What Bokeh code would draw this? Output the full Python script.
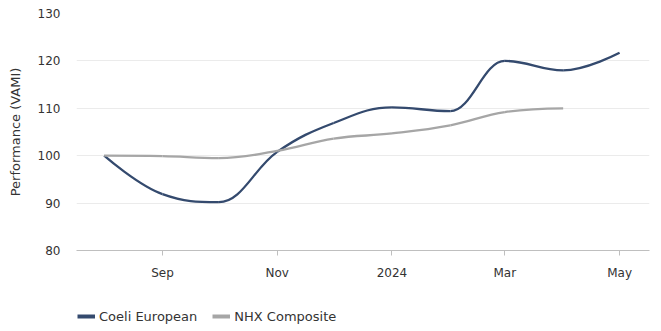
import pandas as pd
from bokeh.plotting import figure
from bokeh.layouts import column
from bokeh.models import (Range1d, FixedTicker, Legend, LegendItem, ColumnDataSource)
from bokeh.embed import file_html
from bokeh.resources import INLINE

# ---- data ----
coeli_dates = ["2023-08-01", "2023-09-01", "2023-10-01", "2023-11-01", "2023-12-01",
               "2024-01-01", "2024-02-01", "2024-03-01", "2024-04-01", "2024-05-01"]
coeli_values = [100, 91.9, 90.2, 100.8, 106.9, 110.2, 109.4, 120.0, 118.0, 121.7]

nhx_dates = ["2023-08-01", "2023-09-01", "2023-10-01", "2023-11-01", "2023-12-01",
             "2024-01-01", "2024-02-01", "2024-03-01", "2024-04-01"]
nhx_values = [100, 99.9, 99.5, 101.0, 103.6, 104.7, 106.4, 109.2, 110.0]

tick_dates = ["2023-09-01", "2023-11-01", "2024-01-01", "2024-03-01", "2024-05-01"]
tick_labels = ["Sep", "Nov", "2024", "Mar", "May"]

series_names = ["Coeli European", "NHX Composite"]
colors = ["#344a6e", "#a6a6a6"]

FONT = "DejaVu Sans"


def ms(d):
    return pd.Timestamp(d).value / 1e6


def spline_segments(xs, ys, smoothing=1.5):
    """Highcharts-style spline: cubic bezier control points from the data."""
    n = len(xs)
    left = [None] * n
    right = [None] * n
    denom = smoothing + 1
    for i in range(n):
        px, py = xs[i], ys[i]
        if 0 < i < n - 1:
            lx, ly = xs[i - 1], ys[i - 1]
            nx, ny = xs[i + 1], ys[i + 1]
            lcx = (smoothing * px + lx) / denom
            lcy = (smoothing * py + ly) / denom
            rcx = (smoothing * px + nx) / denom
            rcy = (smoothing * py + ny) / denom
            if rcx != lcx:
                corr = (rcy - lcy) * (rcx - px) / (rcx - lcx) + py - rcy
                lcy += corr
                rcy += corr
                if lcy > ly and lcy > py:
                    lcy = max(ly, py)
                    rcy = 2 * py - lcy
                elif lcy < ly and lcy < py:
                    lcy = min(ly, py)
                    rcy = 2 * py - lcy
                if rcy > ny and rcy > py:
                    rcy = max(ny, py)
                    lcy = 2 * py - rcy
                elif rcy < ny and rcy < py:
                    rcy = min(ny, py)
                    lcy = 2 * py - rcy
            left[i] = (lcx, lcy)
            right[i] = (rcx, rcy)
        else:
            left[i] = (px, py)
            right[i] = (px, py)
    seg = dict(x0=[], y0=[], x1=[], y1=[], cx0=[], cy0=[], cx1=[], cy1=[])
    for i in range(1, n):
        seg["x0"].append(xs[i - 1]); seg["y0"].append(ys[i - 1])
        seg["x1"].append(xs[i]); seg["y1"].append(ys[i])
        seg["cx0"].append(right[i - 1][0]); seg["cy0"].append(right[i - 1][1])
        seg["cx1"].append(left[i][0]); seg["cy1"].append(left[i][1])
    return seg


x_start = ms("2023-09-01") - 45.7 * 86400000
x_end = ms("2024-05-01") + 15.9 * 86400000

MAIN_H = 296
p = figure(width=661, height=MAIN_H, output_backend="svg", toolbar_location=None,
           x_axis_type="datetime",
           x_range=Range1d(x_start, x_end), y_range=Range1d(80, 130),
           min_border_left=76, min_border_right=12, min_border_top=13,
           min_border_bottom=MAIN_H - 250)
p.outline_line_color = None
p.background_fill_color = "white"
p.border_fill_color = "white"

for dates, vals, col in [(coeli_dates, coeli_values, colors[0]),
                         (nhx_dates, nhx_values, colors[1])]:
    xs = [ms(d) for d in dates]
    seg = spline_segments(xs, vals)
    p.bezier(x0="x0", y0="y0", x1="x1", y1="y1", cx0="cx0", cy0="cy0",
             cx1="cx1", cy1="cy1", source=ColumnDataSource(seg),
             line_color=col, line_width=2.3)

# grid
p.xgrid.visible = False
p.ygrid.ticker = FixedTicker(ticks=[80, 90, 100, 110, 120, 130])
p.ygrid.grid_line_color = "#ebebeb"
p.ygrid.grid_line_width = 1

# y axis
p.yaxis.ticker = FixedTicker(ticks=[80, 90, 100, 110, 120, 130])
p.yaxis.axis_line_color = None
p.yaxis.major_tick_line_color = None
p.yaxis.minor_tick_line_color = None
p.yaxis.major_tick_out = 0
p.yaxis.major_tick_in = 0
p.yaxis.major_label_standoff = 16
p.yaxis.major_label_text_font = FONT
p.yaxis.major_label_text_font_size = "12px"
p.yaxis.major_label_text_color = "#333333"
p.yaxis.axis_label = "Performance (VAMI)"
p.yaxis.axis_label_text_font = FONT
p.yaxis.axis_label_text_font_size = "13px"
p.yaxis.axis_label_text_font_style = "normal"
p.yaxis.axis_label_text_color = "#333333"
p.yaxis.axis_label_standoff = 12

# x axis
tick_ms = [ms(d) for d in tick_dates]
p.xaxis.ticker = FixedTicker(ticks=tick_ms)
p.xaxis.major_label_overrides = {t: lab for t, lab in zip(tick_ms, tick_labels)}
p.xaxis.axis_line_color = "#bfbfbf"
p.xaxis.axis_line_width = 1
p.xaxis.major_tick_line_color = "#bfbfbf"
p.xaxis.major_tick_out = 5
p.xaxis.major_tick_in = 0
p.xaxis.minor_tick_line_color = None
p.xaxis.major_label_standoff = 10
p.xaxis.major_label_text_font = FONT
p.xaxis.major_label_text_font_size = "12px"
p.xaxis.major_label_text_color = "#333333"

# ---- legend strip ----
LEG_H = 331 - MAIN_H
lg = figure(width=661, height=LEG_H, output_backend="svg", toolbar_location=None,
            x_range=Range1d(0, 1), y_range=Range1d(0, 1),
            min_border=0, x_axis_location=None, y_axis_location=None)
lg.outline_line_color = None
lg.xgrid.visible = False
lg.ygrid.visible = False
nan = float("nan")
legend_rs = []
for col in colors:
    legend_rs.append(lg.line(x=[nan], y=[nan], line_color=col, line_width=4))

legend = Legend(items=[LegendItem(label=series_names[i], renderers=[legend_rs[i]])
                       for i in range(2)],
                location=(1, LEG_H - 20 - 10), orientation="horizontal",
                label_text_font=FONT, label_text_font_size="13px",
                label_text_color="#333333", glyph_width=18, glyph_height=20,
                label_standoff=4, spacing=15, padding=0, margin=0,
                border_line_color=None, background_fill_alpha=0)
lg.add_layout(legend, "center")

layout = column(p, lg, spacing=0)
open("out.html", "w").write(file_html(layout, INLINE))
